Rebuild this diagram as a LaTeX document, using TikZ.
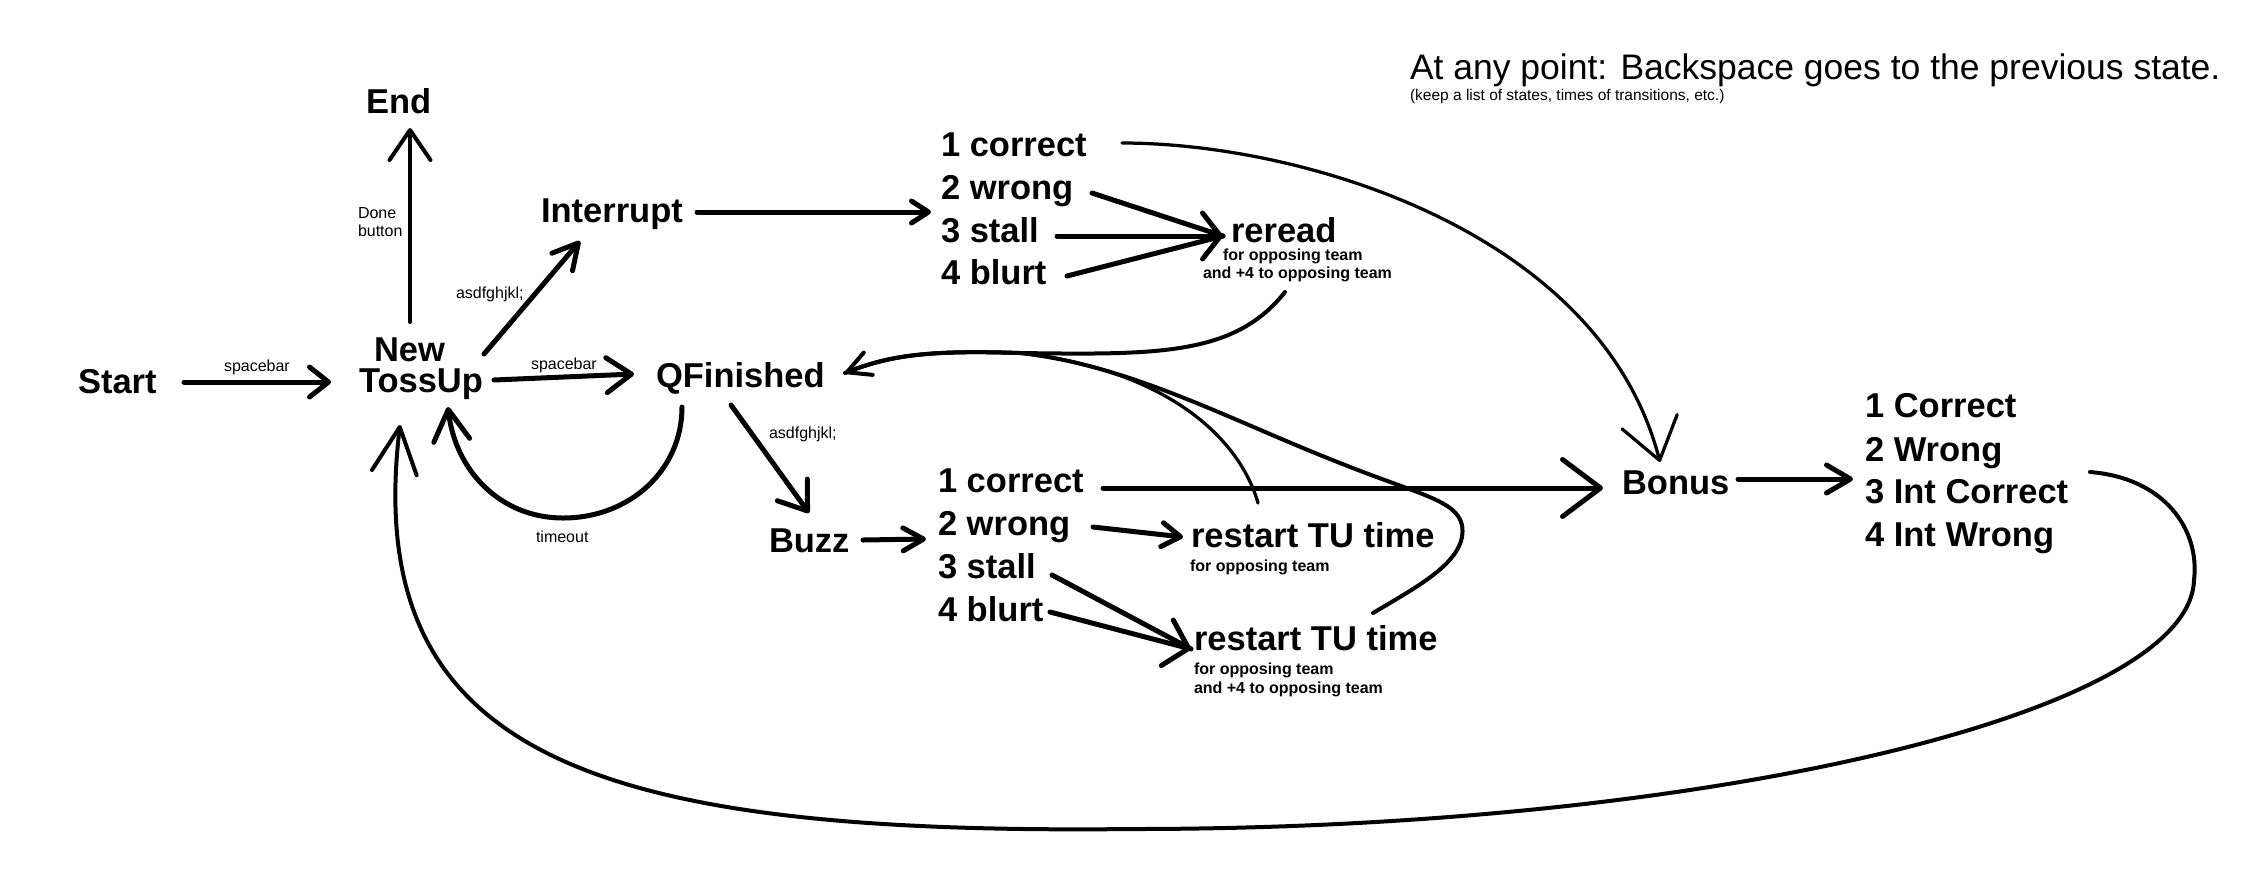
\documentclass[tikz,border=0pt]{standalone}
\usepackage{fontspec}
\setmainfont{Liberation Sans}
\usetikzlibrary{arrows.meta,calc}
\begin{document}
\begin{tikzpicture}[x=0.4pt,y=-0.4pt,
  every node/.style={inner sep=0pt,outer sep=0pt,anchor=base west},
  big/.style={font=\fontsize{13.8pt}{16pt}\selectfont\bfseries},
  lbl/.style={font=\fontsize{6.4pt}{7.2pt}\selectfont},
  sub/.style={font=\fontsize{6.4pt}{7.2pt}\selectfont\bfseries},
  wire/.style={line width=2pt,line cap=round,line join=round},
  wirem/.style={line width=1.6pt,line cap=round,line join=round},
  wiret/.style={line width=1.3pt,line cap=round,line join=round},
  hd/.style 2 args={-{Straight Barb[length=#1,width=#2,round]}}]

\useasboundingbox (0,0) rectangle (2266,882);

% notes
\node[font=\fontsize{14.2pt}{16pt}\selectfont] (note) at (1410,79) {At any point: Backspace goes to the previous state.};
\node[font=\fontsize{6.2pt}{7pt}\selectfont] (note2) at (1410,100) {(keep a list of states, times of transitions, etc.)};

% states
\node[big] (end) at (366,113) {End};
\node[lbl] (done1) at (358,218) {Done};
\node[lbl] (done2) at (358,236) {button};
\node[big] (intr) at (541,222) {Interrupt};
\node[lbl] (kA) at (456,298) {asdfghjkl;};
\node[big] (start) at (78,393) {Start};
\node[lbl] (sp1) at (224,371) {spacebar};
\node[big] (new) at (374,361) {New};
\node[big] (toss) at (359,392) {TossUp};
\node[lbl] (sp2) at (531,369) {spacebar};
\node[big] (qf) at (656,387) {QFinished};
\node[lbl] (tmo) at (536,542) {timeout};
\node[lbl] (kB) at (769,438) {asdfghjkl;};
\node[big] (buzz) at (769,552) {Buzz};

\node[big] (i1) at (941,156) {1 correct};
\node[big] (i2) at (941,199) {2 wrong};
\node[big] (i3) at (941,242) {3 stall};
\node[big] (i4) at (941,284) {4 blurt};

\node[big] (b1) at (938,492) {1 correct};
\node[big] (b2) at (938,535) {2 wrong};
\node[big] (b3) at (938,578) {3 stall};
\node[big] (b4) at (938,621) {4 blurt};

\node[big] (rr) at (1231,242) {reread};
\node[sub] (rrA) at (1223,260) {for opposing team};
\node[sub] (rrB) at (1203,278) {and +4 to opposing team};

\node[big] (rs1) at (1191,547) {restart TU time};
\node[sub] (rs1A) at (1190,571) {for opposing team};
\node[big] (rs2) at (1194,650.5) {restart TU time};
\node[sub] (rs2A) at (1194,674) {for opposing team};
\node[sub] (rs2B) at (1194,693) {and +4 to opposing team};

\node[big] (bonus) at (1622,494) {Bonus};
\node[big] (n1) at (1865,417) {1 Correct};
\node[big] (n2) at (1865,461) {2 Wrong};
\node[big] (n3) at (1865,503) {3 Int Correct};
\node[big] (n4) at (1865,546) {4 Int Wrong};

% connectors
\draw[wire,hd={7.6pt}{12pt}] ($(start.base west)+(106,-11)$) -- ($(toss.base west)+(-28,-10)$);
\draw[wirem,hd={12pt}{16.4pt}] ($(new.base west)+(36,-39)$) -- ($(end.base west)+(44,15)$);
\draw[wire,hd={10pt}{10.8pt}] ($(new.base west)+(110,-7)$) -- ($(intr.base west)+(39,19)$);
\draw[wire,hd={10pt}{14pt}] ($(toss.base west)+(135,-12)$) -- ($(qf.base west)+(-22,-13)$);
\draw[wire,hd={12.4pt}{14.4pt}] ($(qf.base west)+(26,20)$) .. controls (682,470) and (630,518) .. (563,518) .. controls (500,518) and (455,470) .. ($(toss.base west)+(89,15)$);
\draw[wire,hd={10.4pt}{14.8pt}] ($(qf.base west)+(75,18)$) -- ($(buzz.base west)+(40,-39)$);
\draw[wire,hd={8.2pt}{9.2pt}] ($(buzz.base west)+(94,-12)$) -- ($(b2.base west)+(-12,4)$);
\draw[wire,hd={6.8pt}{8.8pt}] ($(intr.base west)+(156,-10)$) -- ($(i2.base west)+(-10,13)$);

\draw[wiret,hd={16pt}{22.8pt}] ($(i1.base west)+(181,-13)$) .. controls (1300,143) and (1600,230) .. ($(bonus.base west)+(38,-32)$);

\draw[wire] ($(i2.base west)+(151,-6)$) -- ($(rr.base west)+(-8,-6)$);
\draw[wire,hd={7.2pt}{18.4pt}] ($(i3.base west)+(116,-6)$) -- ($(rr.base west)+(-8,-6)$);
\draw[wire] ($(i4.base west)+(126,-8)$) -- ($(rr.base west)+(-8,-6)$);

\draw[wirem,hd={9.2pt}{9.6pt}] ($(rrB.base west)+(82,14)$) .. controls (1235,355) and (1160,355) .. (1020,353) .. controls (930,350) and (890,355) .. ($(qf.base west)+(189,-14)$);
\draw[wiret] ($(rs1.base west)+(67,-44)$) .. controls (1240,440) and (1170,370) .. (1020,353) .. controls (930,350) and (890,355) .. ($(qf.base west)+(189,-14)$);
\draw[wirem] ($(rs2.base west)+(179,-37.5)$) .. controls (1420,585) and (1468,560) .. (1462,525) .. controls (1456,500) and (1420,495) .. (1340,463) .. controls (1230,420) and (1130,365) .. (1020,353) .. controls (930,350) and (890,355) .. ($(qf.base west)+(189,-14)$);

\draw[wire,hd={15.2pt}{22.8pt}] ($(b1.base west)+(165,-4)$) -- ($(bonus.base west)+(-19,-6)$);
\draw[wire,hd={7.4pt}{9.6pt}] ($(b2.base west)+(155,-8)$) -- ($(rs1.base west)+(-8,-10)$);
\draw[wire] ($(b3.base west)+(114,-3)$) -- ($(rs2.base west)+(-3,-1.5)$);
\draw[wire,hd={8.8pt}{18.8pt}] ($(b4.base west)+(112,-9)$) -- ($(rs2.base west)+(-3,-1.5)$);
\draw[wire,hd={9.6pt}{11.2pt}] ($(bonus.base west)+(116,-15)$) -- ($(n3.base west)+(-12,-24)$);

\draw[wirem,hd={18.4pt}{18pt}] ($(n3.base west)+(225,-31)$) .. controls (2165,478) and (2200,530) .. (2194,580) .. controls (2190,715) and (1700,829) .. (1133,829) .. controls (600,835) and (360,760) .. ($(toss.base west)+(41,33)$);
\end{tikzpicture}
\end{document}
